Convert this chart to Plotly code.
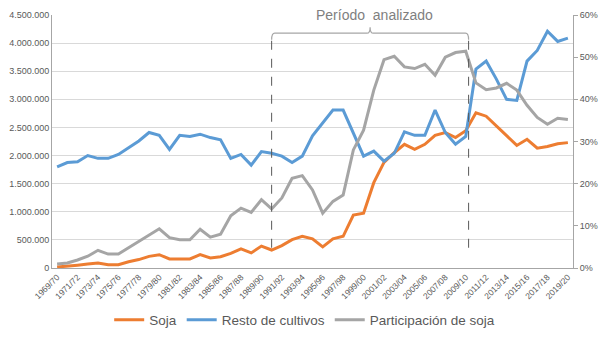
import plotly.graph_objects as go

campanias = ["1969/70", "1970/71", "1971/72", "1972/73", "1973/74", "1974/75", "1975/76", "1976/77",
             "1977/78", "1978/79", "1979/80", "1980/81", "1981/82", "1982/83", "1983/84", "1984/85",
             "1985/86", "1986/87", "1987/88", "1988/89", "1989/90", "1990/91", "1991/92", "1992/93",
             "1993/94", "1994/95", "1995/96", "1996/97", "1997/98", "1998/99", "1999/00", "2000/01",
             "2001/02", "2002/03", "2003/04", "2004/05", "2005/06", "2006/07", "2007/08", "2008/09",
             "2009/10", "2010/11", "2011/12", "2012/13", "2013/14", "2014/15", "2015/16", "2016/17",
             "2017/18", "2018/19", "2019/20"]

soja = [17000, 30000, 50000, 70000, 90000, 60000, 60000, 112000, 150000, 207000,
        237000, 160000, 160000, 160000, 237000, 180000, 200000, 260000, 340000, 268000,
        390000, 320000, 398000, 505000, 564000, 518000, 375000, 518000, 564000, 940000,
        975000, 1518000, 1880000, 2050000, 2200000, 2110000, 2200000, 2360000, 2410000, 2320000,
        2440000, 2760000, 2700000, 2530000, 2350000, 2180000, 2290000, 2130000, 2160000, 2210000,
        2230000]

resto = [1800000, 1875000, 1890000, 2000000, 1950000, 1950000, 2020000, 2140000, 2260000, 2410000,
         2360000, 2110000, 2360000, 2340000, 2380000, 2320000, 2280000, 1950000, 2020000, 1830000,
         2070000, 2040000, 1990000, 1875000, 1990000, 2350000, 2580000, 2810000, 2810000, 2410000,
         1990000, 2080000, 1900000, 2040000, 2420000, 2360000, 2360000, 2810000, 2410000, 2200000,
         2340000, 3540000, 3680000, 3360000, 3000000, 2980000, 3680000, 3870000, 4210000, 4030000,
         4090000]

participacion = [0.95, 1.2, 1.9, 2.8, 4.2, 3.3, 3.3, 4.8, 6.2, 7.6,
                 9.3, 7.2, 6.7, 6.7, 9.2, 7.3, 8.0, 12.4, 14.2, 13.2,
                 16.2, 14.0, 16.6, 21.3, 21.9, 18.5, 13.0, 15.8, 17.3, 28.0,
                 32.7, 42.2, 49.4, 50.2, 47.7, 47.3, 48.3, 45.7, 50.0, 51.1,
                 51.4, 43.9, 42.3, 42.7, 43.8, 42.2, 38.6, 35.7, 34.1, 35.5,
                 35.2]

tick_labels = campanias[::2]

FONT = "Arial, Liberation Sans, sans-serif"
TXT = "#595959"
AX = "#a6a6a6"

fig = go.Figure()
fig.add_trace(go.Scatter(x=campanias, y=soja, name="Soja", mode="lines",
                         line=dict(color="#ED7D31", width=3)))
fig.add_trace(go.Scatter(x=campanias, y=resto, name="Resto de cultivos", mode="lines",
                         line=dict(color="#5B9BD5", width=3)))
fig.add_trace(go.Scatter(x=campanias, y=participacion, name="Participación de soja", mode="lines",
                         line=dict(color="#A5A5A5", width=3), yaxis="y2"))

# period markers
x_ini, x_fin = 21, 40.28
for xv in (x_ini, x_fin):
    fig.add_shape(type="line", xref="x", yref="paper", x0=xv, x1=xv, y0=0.08, y1=0.905,
                  line=dict(color="#595959", width=1, dash="dash"))

n = len(campanias)
def px(i):
    return (i + 0.5) / n

a, b = px(x_ini), px(x_fin)
c = (a + b) / 2
yb, yd, yu, r = 0.928, 0.902, 0.952, 0.006
path = (f"M {a},{yd} Q {a},{yb} {a+r},{yb} L {c-r},{yb} Q {c},{yb} {c},{yu} "
        f"Q {c},{yb} {c+r},{yb} L {b-r},{yb} Q {b},{yb} {b},{yd}")
fig.add_shape(type="path", xref="paper", yref="paper", path=path,
              line=dict(color="#a6a6a6", width=1.2))
fig.add_annotation(xref="paper", yref="paper", x=c + 0.008, y=1.0, yanchor="middle",
                   text="Período  analizado", showarrow=False,
                   font=dict(family=FONT, size=14, color="#7f7f7f"))

fig.update_layout(
    width=605, height=340,
    margin=dict(l=52, r=32, t=15, b=72, autoexpand=False),
    paper_bgcolor="white", plot_bgcolor="white",
    separators=",.",
    font=dict(family=FONT, color=TXT),
    showlegend=True,
    legend=dict(orientation="h", x=0.485, xanchor="center", y=-0.205, yanchor="middle",
                font=dict(family=FONT, size=13.5, color=TXT), itemwidth=30,
                traceorder="normal"),
    xaxis=dict(type="category", range=[-0.5, n - 0.5], tickmode="array",
               tickvals=tick_labels, ticktext=tick_labels, tickangle=-45,
               tickfont=dict(size=8.5, color=TXT), showgrid=False, automargin=False,
               showline=True, linecolor=AX, linewidth=1, ticks="", zeroline=False),
    yaxis=dict(range=[0, 4500000], dtick=500000, tickformat=",d", automargin=False,
               tickfont=dict(size=9, color=TXT), showgrid=True, gridcolor="#d9d9d9",
               gridwidth=1, showline=True, linecolor=AX, linewidth=1, zeroline=False,
               ticks=""),
    yaxis2=dict(range=[0, 60], dtick=10, ticksuffix="%", overlaying="y", side="right",
                tickfont=dict(size=9, color=TXT), showgrid=False, showline=True,
                automargin=False,
                linecolor=AX, linewidth=1, ticks="outside", ticklen=4, tickcolor=AX,
                zeroline=False),
)

fig.write_html("out.html")
